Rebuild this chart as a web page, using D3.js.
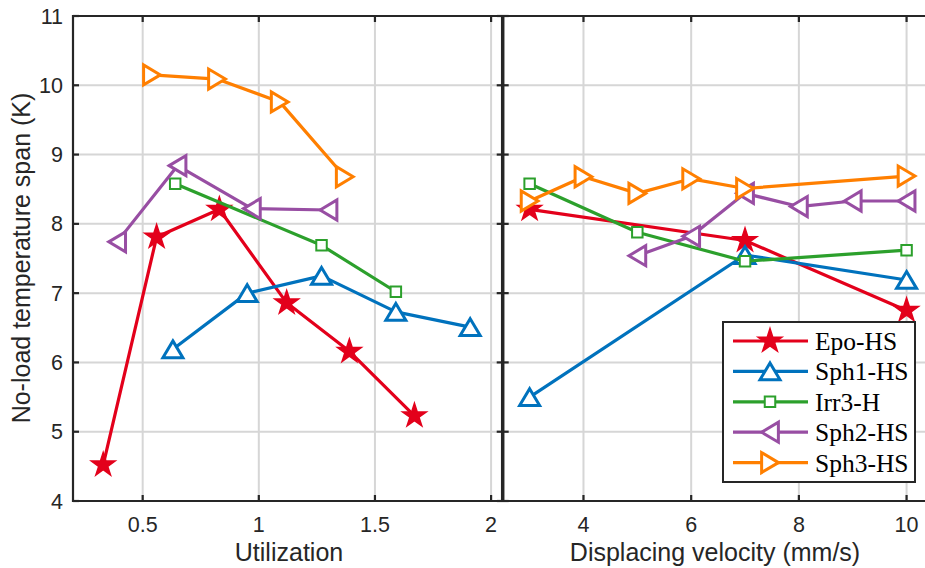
<!DOCTYPE html>
<html>
<head>
<meta charset="utf-8">
<script src="https://cdn.jsdelivr.net/npm/d3@7"></script>
<style>
  body { margin: 0; background: #fff; }
  svg { display: block; }
</style>
</head>
<body>
<svg width="925" height="568"></svg>
<script>
// series names
const seriesNames = ["Epo-HS", "Sph1-HS", "Irr3-H", "Sph2-HS", "Sph3-HS"]

// left panel: utilization vs temperature span
const epoUtil = [0.33, 0.56, 0.83, 1.12, 1.39, 1.67]
const epoUtilT = [4.52, 7.81, 8.21, 6.86, 6.16, 5.23]
const sph1Util = [0.63, 0.95, 1.27, 1.59, 1.91]
const sph1UtilT = [6.19, 7.0, 7.25, 6.73, 6.51]
const irr3Util = [0.64, 1.27, 1.59]
const irr3UtilT = [8.58, 7.69, 7.02]
const sph2Util = [0.39, 0.65, 0.97, 1.3]
const sph2UtilT = [7.74, 8.84, 8.22, 8.2]
const sph3Util = [0.54, 0.82, 1.09, 1.37]
const sph3UtilT = [10.15, 10.09, 9.76, 8.68]

// right panel: displacing velocity (mm/s) vs temperature span
const epoVel = [3, 7, 10]
const epoVelT = [8.21, 7.76, 6.75]
const sph1Vel = [3, 7, 10]
const sph1VelT = [5.5, 7.55, 7.19]
const irr3Vel = [3, 5, 7, 10]
const irr3VelT = [8.58, 7.88, 7.46, 7.62]
const sph2Vel = [5, 6, 7, 8, 9, 10]
const sph2VelT = [7.54, 7.82, 8.44, 8.25, 8.33, 8.33]
const sph3Vel = [3, 4, 5, 6, 7, 10]
const sph3VelT = [8.33, 8.68, 8.44, 8.65, 8.51, 8.69]

const utilTicks = [0.5, 1, 1.5, 2]
const velTicks = [4, 6, 8, 10]
const tempTicks = [4, 5, 6, 7, 8, 9, 10, 11]

const colors = ["#e3001b", "#0072bd", "#2ca02c", "#984ea3", "#ff7f00"]

const svg = d3.select("svg")

const plotTop = 16, plotBottom = 501
const leftX0 = 73, divX = 502.7, rightX1 = 933.5

const xL = d3.scaleLinear().domain([0.2, 2.05]).range([leftX0, divX])
const xR = d3.scaleLinear().domain([2.5, 10.5]).range([divX, rightX1])
const y = d3.scaleLinear().domain([4, 11]).range([plotBottom, plotTop])

// marker shapes (bbox centred, like matlab)
const tri = {
  draw(ctx, size) {
    const a = Math.sqrt(size) * 0.62, b = Math.sqrt(size) * 0.52
    ctx.moveTo(0, -b); ctx.lineTo(a, b); ctx.lineTo(-a, b); ctx.closePath()
  }
}
const markers = [
  {type: d3.symbolStar, size: 175, rot: 0, fill: true, sw: 1.5},
  {type: tri, size: 260, rot: 0, fill: false, sw: 3},
  {type: d3.symbolSquare, size: 110, rot: 0, fill: false, sw: 2},
  {type: tri, size: 260, rot: -90, fill: false, sw: 3},
  {type: tri, size: 260, rot: 90, fill: false, sw: 3}
]

const leftData = [
  [epoUtil, epoUtilT], [sph1Util, sph1UtilT], [irr3Util, irr3UtilT],
  [sph2Util, sph2UtilT], [sph3Util, sph3UtilT]
]
const rightData = [
  [epoVel, epoVelT], [sph1Vel, sph1VelT], [irr3Vel, irr3VelT],
  [sph2Vel, sph2VelT], [sph3Vel, sph3VelT]
]

// grid
const grid = svg.append("g").attr("stroke", "#d6d6d6").attr("stroke-width", 2)
utilTicks.forEach(t => grid.append("line").attr("x1", xL(t)).attr("x2", xL(t)).attr("y1", plotTop).attr("y2", plotBottom))
velTicks.forEach(t => grid.append("line").attr("x1", xR(t)).attr("x2", xR(t)).attr("y1", plotTop).attr("y2", plotBottom))
tempTicks.forEach(t => grid.append("line").attr("x1", leftX0).attr("x2", 925).attr("y1", y(t)).attr("y2", y(t)))

// axes
const axisG = svg.append("g").attr("stroke", "#262626").attr("stroke-width", 2.2).attr("fill", "none")
axisG.append("line").attr("x1", leftX0).attr("x2", 925).attr("y1", plotTop).attr("y2", plotTop)
axisG.append("line").attr("x1", leftX0).attr("x2", 925).attr("y1", plotBottom).attr("y2", plotBottom)
axisG.append("line").attr("x1", leftX0).attr("x2", leftX0).attr("y1", plotTop - 1).attr("y2", plotBottom + 1)
axisG.append("line").attr("x1", divX).attr("x2", divX).attr("y1", plotTop - 1).attr("y2", plotBottom + 1).attr("stroke-width", 3.5)

// tick marks
utilTicks.forEach(t => {
  axisG.append("line").attr("x1", xL(t)).attr("x2", xL(t)).attr("y1", plotBottom).attr("y2", plotBottom - 6)
  axisG.append("line").attr("x1", xL(t)).attr("x2", xL(t)).attr("y1", plotTop).attr("y2", plotTop + 6)
})
velTicks.forEach(t => {
  axisG.append("line").attr("x1", xR(t)).attr("x2", xR(t)).attr("y1", plotBottom).attr("y2", plotBottom - 6)
  axisG.append("line").attr("x1", xR(t)).attr("x2", xR(t)).attr("y1", plotTop).attr("y2", plotTop + 6)
})
tempTicks.forEach(t => {
  axisG.append("line").attr("x1", leftX0).attr("x2", leftX0 + 6).attr("y1", y(t)).attr("y2", y(t))
  axisG.append("line").attr("x1", divX - 6).attr("x2", divX + 6).attr("y1", y(t)).attr("y2", y(t))
})

// tick labels
const lab = svg.append("g").attr("font-family", "Liberation Sans, Arial, sans-serif")
  .attr("font-size", "21.5px").attr("fill", "#262626")
utilTicks.forEach(t => lab.append("text").attr("x", xL(t)).attr("y", 532).attr("text-anchor", "middle").text(t))
velTicks.forEach(t => lab.append("text").attr("x", xR(t)).attr("y", 532).attr("text-anchor", "middle").text(t))
tempTicks.forEach(t => lab.append("text").attr("x", 63).attr("y", y(t) + 7.5).attr("text-anchor", "end").text(t))

// axis titles
const titles = svg.append("g").attr("font-family", "Liberation Sans, Arial, sans-serif")
  .attr("font-size", "25px").attr("fill", "#262626").attr("text-anchor", "middle")
titles.append("text").attr("x", 289).attr("y", 561).text("Utilization")
titles.append("text").attr("x", 715).attr("y", 561).text("Displacing velocity (mm/s)")
titles.append("text").attr("transform", "translate(30, 258) rotate(-90)").text("No-load temperature span (K)")

// series
const line = (xs) => d3.line().x(d => xs(d[0])).y(d => y(d[1]))

function drawSeries(g, data, xs) {
  data.forEach((s, i) => {
    const pts = s[0].map((v, j) => [v, s[1][j]])
    const m = markers[i]
    g.append("path").datum(pts).attr("fill", "none").attr("stroke", colors[i])
      .attr("stroke-width", 3.2).attr("stroke-linejoin", "round").attr("d", line(xs))
    g.selectAll(null).data(pts).join("path")
      .attr("transform", d => `translate(${xs(d[0])},${y(d[1])}) rotate(${m.rot})`)
      .attr("d", d3.symbol().type(m.type).size(m.size))
      .attr("fill", m.fill ? colors[i] : "#fff")
      .attr("stroke", colors[i]).attr("stroke-width", m.sw).attr("stroke-linejoin", "miter")
  })
}

drawSeries(svg.append("g"), leftData, xL)
drawSeries(svg.append("g"), rightData, xR)

// legend
const leg = svg.append("g")
leg.append("rect").attr("x", 723).attr("y", 322).attr("width", 192).attr("height", 160)
  .attr("fill", "#fff").attr("stroke", "#262626").attr("stroke-width", 2)
seriesNames.forEach((name, i) => {
  const cy = 341 + i * 30.4
  const m = markers[i]
  leg.append("line").attr("x1", 733).attr("x2", 808).attr("y1", cy).attr("y2", cy)
    .attr("stroke", colors[i]).attr("stroke-width", 3.2)
  leg.append("path").attr("transform", `translate(770,${cy}) rotate(${m.rot})`)
    .attr("d", d3.symbol().type(m.type).size(m.size))
    .attr("fill", m.fill ? colors[i] : "#fff")
    .attr("stroke", colors[i]).attr("stroke-width", m.sw)
  leg.append("text").attr("x", 815).attr("y", cy + 9)
    .attr("font-family", "Liberation Serif, Times New Roman, serif").attr("font-size", "25.5px")
    .attr("fill", "#000").text(name)
})
</script>
</body>
</html>
